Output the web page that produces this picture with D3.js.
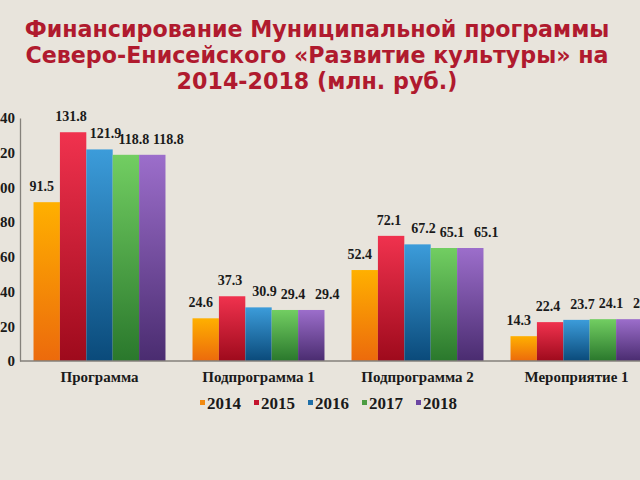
<!DOCTYPE html>
<html>
<head>
<meta charset="utf-8">
<script src="https://cdn.jsdelivr.net/npm/d3@7"></script>
<style>
  body { margin: 0; background: #e8e4dc; }
  svg { display: block; }
</style>
</head>
<body>
<div id="chart"></div>
<script>
// Data
var categories = ["Программа", "Подпрограмма 1", "Подпрограмма 2", "Мероприятие 1"];
var years = ["2014", "2015", "2016", "2017", "2018"];
var values2014 = [91.5, 24.6, 52.4, 14.3];
var values2015 = [131.8, 37.3, 72.1, 22.4];
var values2016 = [121.9, 30.9, 67.2, 23.7];
var values2017 = [118.8, 29.4, 65.1, 24.1];
var values2018 = [118.8, 29.4, 65.1, 24.1];
var yTicks = [0, 20, 40, 60, 80, 100, 120, 140];
var titleLines = [
  "Финансирование Муниципальной программы",
  "Северо-Енисейского «Развитие культуры» на",
  "2014-2018 (млн. руб.)"
];

var series = [values2014, values2015, values2016, values2017, values2018];

// colours: gradient top, gradient bottom, legend swatch
var topColors = ["#ffb000", "#f0324e", "#3c9cda", "#72ce62", "#9c6ecb"];
var bottomColors = ["#ec6a0c", "#9e0a1c", "#0a4a7a", "#2a782c", "#4a2c70"];
var swatchColors = ["#f28a10", "#c4142e", "#1f6fa8", "#4c9c42", "#6c46a2"];
// small sideways shift of value labels per year, as in the original slide
var labelShift = [-5, -2, 6, 8, 16];

var svgWidth = 640;
var svgHeight = 480;

var svg = d3.select("#chart")
  .append("svg")
  .attr("width", svgWidth)
  .attr("height", svgHeight);

svg.append("rect")
  .attr("width", svgWidth)
  .attr("height", svgHeight)
  .attr("fill", "#e8e4dc");

// gradients for bars
var defs = svg.append("defs");
years.forEach(function(yr, i) {
  var g = defs.append("linearGradient")
    .attr("id", "grad" + i)
    .attr("x1", 0).attr("y1", 0)
    .attr("x2", 0).attr("y2", 1);
  g.append("stop").attr("offset", "0%").attr("stop-color", topColors[i]);
  g.append("stop").attr("offset", "100%").attr("stop-color", bottomColors[i]);
});

// Title
var title = svg.append("g").selectAll("text")
  .data(titleLines)
  .enter()
  .append("text")
  .attr("x", 317)
  .attr("y", (d, i) => 37 + i * 26)
  .attr("text-anchor", "middle")
  .attr("font-family", "'DejaVu Sans', sans-serif")
  .attr("font-weight", "bold")
  .attr("font-size", 20)
  .attr("fill", "#b01a2e")
  .text(d => d);

// fit the first title line to about 585px wide, like the slide
var w0 = title.node().getComputedTextLength();
if (w0 > 0) {
  title.attr("font-size", 20 * 585 / w0);
}

// Scales
var plotLeft = 20, plotRight = 656, plotTop = 118, plotBottom = 361;

var x0 = d3.scaleBand()
  .domain(categories)
  .range([plotLeft, plotRight])
  .paddingInner(0.17)
  .paddingOuter(0.085);

var x1 = d3.scaleBand()
  .domain(years)
  .range([0, x0.bandwidth()]);

var y = d3.scaleLinear()
  .domain([0, 140])
  .range([plotBottom, plotTop]);

// Bars
var groups = svg.append("g").selectAll("g")
  .data(categories)
  .enter()
  .append("g")
  .attr("transform", d => `translate(${x0(d)},0)`);

groups.selectAll("rect")
  .data((d, ci) => years.map((yr, si) => ({ yr: yr, si: si, v: series[si][ci] })))
  .enter()
  .append("rect")
  .attr("x", d => x1(d.yr))
  .attr("y", d => y(d.v))
  .attr("width", x1.bandwidth())
  .attr("height", d => y(0) - y(d.v))
  .attr("fill", d => `url(#grad${d.si})`);

groups.selectAll("text")
  .data((d, ci) => years.map((yr, si) => ({ yr: yr, si: si, v: series[si][ci] })))
  .enter()
  .append("text")
  .attr("x", d => x1(d.yr) + x1.bandwidth() / 2 + labelShift[d.si])
  .attr("y", d => y(d.v) - 11)
  .attr("text-anchor", "middle")
  .attr("font-family", "'Liberation Serif', serif")
  .attr("font-weight", "bold")
  .attr("font-size", 14)
  .attr("fill", "#1a1a1a")
  .text(d => d.v.toFixed(1));

// Y axis
var yAxis = svg.append("g")
  .attr("transform", `translate(${plotLeft},0)`)
  .call(d3.axisLeft(y).tickValues(yTicks).tickSize(0).tickPadding(5));

yAxis.select(".domain").attr("stroke", "#85817b").attr("stroke-width", 1.3);
yAxis.selectAll("text")
  .attr("font-family", "'Liberation Serif', serif")
  .attr("font-weight", "bold")
  .attr("font-size", 15)
  .attr("fill", "#1a1a1a");

// baseline
svg.append("line")
  .attr("x1", plotLeft).attr("x2", svgWidth)
  .attr("y1", y(0)).attr("y2", y(0))
  .attr("stroke", "#85817b")
  .attr("stroke-width", 1.3);

// Category labels
svg.append("g").selectAll("text")
  .data(categories)
  .enter()
  .append("text")
  .attr("x", d => x0(d) + x0.bandwidth() / 2)
  .attr("y", 382)
  .attr("text-anchor", "middle")
  .attr("font-family", "'Liberation Serif', serif")
  .attr("font-weight", "bold")
  .attr("font-size", 15)
  .attr("fill", "#1a1a1a")
  .text(d => d);

// Legend
var lx = d3.scalePoint().domain(years).range([203, 419]);

var legend = svg.append("g").selectAll("g")
  .data(years)
  .enter()
  .append("g")
  .attr("transform", d => `translate(${lx(d)},403)`);

legend.append("rect")
  .attr("x", -3).attr("y", -3)
  .attr("width", 5).attr("height", 5)
  .attr("fill", (d, i) => swatchColors[i]);

legend.append("text")
  .attr("x", 4)
  .attr("y", 6)
  .attr("font-family", "'Liberation Serif', serif")
  .attr("font-weight", "bold")
  .attr("font-size", 17)
  .attr("fill", "#1a1a1a")
  .text(d => d);
</script>
</body>
</html>
